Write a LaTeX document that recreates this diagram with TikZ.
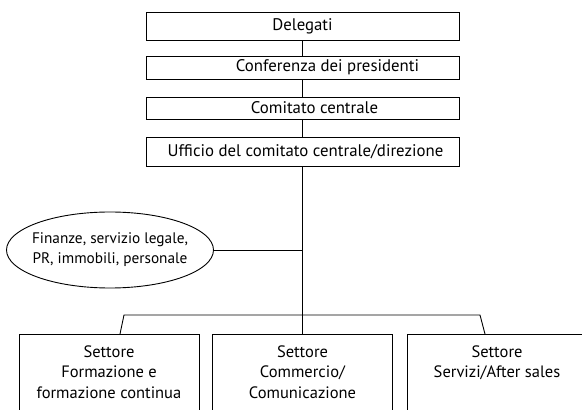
\documentclass[tikz,border=0pt]{standalone}
\usepackage{fontspec}
\setmainfont{PT Sans}
\usetikzlibrary{shapes.geometric}
\tikzset{
	topbox/.style={draw=black, line width=0.9pt, minimum width=313pt, inner sep=0pt, font=\fontsize{16.8}{20}\selectfont},
	secbox/.style={draw=black, line width=0.9pt, minimum width=180pt, minimum height=90pt, inner sep=0pt, anchor=north},
	sectext/.style={anchor=north, align=center, font=\fontsize{16.5}{20.5}\selectfont},
	link/.style={line width=0.9pt}
}

\begin{document}
\begin{tikzpicture}[x=1pt, y=1pt]
		\def\xleft{0}
		\def\xright{582}
		\def\ydown{0}
		\def\yup{410}
		\def\xmid{302.5}
		\draw[draw=none, use as bounding box] (\xleft, \ydown) rectangle (\xright, \yup);
		\clip (\xleft, \ydown) rectangle (\xright, \yup);

		\def\ysec{76}
		\def\ybranch{95}

		% Boxes
		\node[topbox, minimum height=28pt] (delegati) at (\xmid, 384)
			{Delegati};
		\node[topbox, minimum height=23pt] (conferenza) at (\xmid, 342.5)
			{\hspace*{50pt}Conferenza dei presidenti};
		\node[topbox, minimum height=22pt] (comitato) at (\xmid, 302)
			{\hspace*{24pt}Comitato centrale};
		\node[topbox, minimum height=29pt] (ufficio) at (\xmid, 258.5)
			{\hspace*{6pt}Ufficio del comitato centrale/direzione};

		% Staff
		\node[ellipse, draw=black, line width=0.9pt, minimum width=207pt, minimum height=76pt, inner xsep=-16pt, inner ysep=0pt, align=center, font=\fontsize{15.3}{20}\selectfont] (staff) at (110, 160)
			{Finanze, servizio legale,\\PR, immobili, personale};

		% Sectors
		\node[secbox] (formazione) at (109, \ysec) {};
		\node[secbox] (commercio) at (\xmid, \ysec) {};
		\node[secbox] (servizi) at (497, \ysec) {};

		\node[sectext] (formazionetext) at ([yshift=-8pt]formazione.north)
			{Settore\\Formazione e\\formazione continua};
		\node[sectext] (commerciotext) at ([yshift=-8pt]commercio.north)
			{Settore\\Commercio/\\Comunicazione};
		\node[sectext] (servizitext) at ([yshift=-8pt]servizi.north)
			{Settore\\Servizi/After sales};

		% Lines
		\draw[link] (delegati.south) -- (conferenza.north);
		\draw[link] (conferenza.south) -- (comitato.north);
		\draw[link] (comitato.south) -- (ufficio.north);
		\draw[link] (ufficio.south) -- (commercio.north);
		\draw[link] (staff.east) -- (staff.east -| ufficio.south);

		\coordinate (bleft) at (124, \ybranch);
		\coordinate (bright) at (480, \ybranch);
		\draw[link] ([xshift=11pt]formazione.north) -- (bleft) -- (bright) -- ([xshift=-12pt]servizi.north);

	\end{tikzpicture}
\end{document}
